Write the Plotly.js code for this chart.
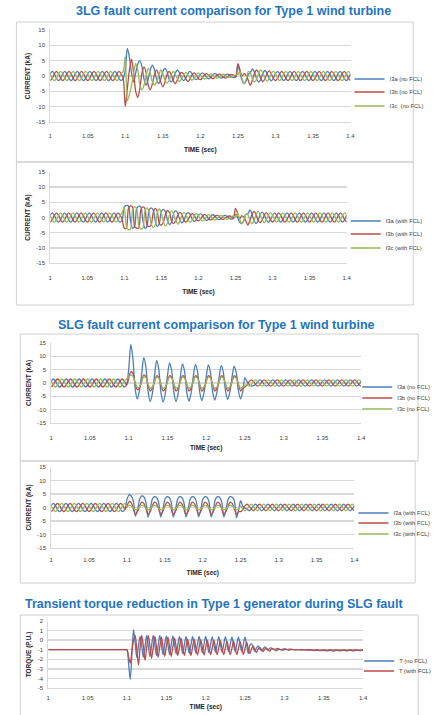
<!DOCTYPE html>
<html>
<head>
<meta charset="utf-8">
<script src="https://cdn.plot.ly/plotly-3.0.1.min.js"></script>
<style>
html,body{margin:0;padding:0;background:#fff;}
#chart{width:436px;height:715px;}
</style>
</head>
<body>
<div id="chart"></div>
<script>
// ---------- sampling of the waveforms ----------
const currentStart = 1.0;          // s
const currentStep = 1 / 360;       // s (6 samples per 60 Hz cycle)
const torqueStart = 1.0;
const torqueStep = 1 / 480;        // s (4 samples per 120 Hz torque cycle)

// ---------- 3LG fault, no FCL (kA) ----------
const i3aNoFcl = [
.75,1.5,.75,-.75,-1.5,-.75, .75,1.5,.75,-.75,-1.5,-.75, .75,1.5,.75,-.75,-1.5,-.75,
.75,1.5,.75,-.75,-1.5,-.75, .75,1.5,.75,-.75,-1.5,-.75, .75,1.5,.75,-.75,-1.5,-.75,
2,9,6,1,-2,1, 4,5,3,-1,-3,-1, 2,3.5,2,-1,-2.5,-1,
1.5,2.5,1.5,-1,-2,-1, 1,2,1,-.8,-1.5,-.8, .8,1.5,.8,-.6,-1.2,-.6,
.5,1,.5,-.5,-.9,-.5, .4,.8,.4,-.4,-.7,-.4, .3,.6,.3,-.3,-.5,-.3,
3.5,1,-1.5,-2.5,-1.5,.5, 1.2,2.3,1.2,-1,-2,-1, 1,1.8,.9,-.8,-1.6,-.8,
.75,1.5,.75,-.75,-1.5,-.75, .75,1.5,.75,-.75,-1.5,-.75, .75,1.5,.75,-.75,-1.5,-.75,
.75,1.5,.75,-.75,-1.5,-.75, .75,1.5,.75,-.75,-1.5,-.75, .75,1.5,.75,-.75,-1.5,-.75,
.75];
const i3bNoFcl = [
-1.5,-.75,.75,1.5,.75,-.75, -1.5,-.75,.75,1.5,.75,-.75, -1.5,-.75,.75,1.5,.75,-.75,
-1.5,-.75,.75,1.5,.75,-.75, -1.5,-.75,.75,1.5,.75,-.75, -1.5,-.75,.75,1.5,.75,-.75,
-10,-4,2,5.5,1,-5, -7,-4,1,3,1,-3, -4.5,-2.5,.5,2,.5,-2,
-3.5,-2,.5,1.5,.5,-1.5, -2.5,-1.3,.5,1.2,.5,-1, -1.8,-1,.4,1,.4,-.8,
-1.2,-.6,.4,.8,.3,-.5, -.9,-.5,.3,.6,.3,-.4, -.7,-.4,.2,.5,.2,-.3,
4,2,0,.8,.2,-1.5, -3,-1.2,1,2,1,-1, -1.8,-.9,.9,1.7,.8,-.8,
-1.5,-.75,.75,1.5,.75,-.75, -1.5,-.75,.75,1.5,.75,-.75, -1.5,-.75,.75,1.5,.75,-.75,
-1.5,-.75,.75,1.5,.75,-.75, -1.5,-.75,.75,1.5,.75,-.75, -1.5,-.75,.75,1.5,.75,-.75,
-1.5];
const i3cNoFcl = [
.75,-.75,-1.5,-.75,.75,1.5, .75,-.75,-1.5,-.75,.75,1.5, .75,-.75,-1.5,-.75,.75,1.5,
.75,-.75,-1.5,-.75,.75,1.5, .75,-.75,-1.5,-.75,.75,1.5, .75,-.75,-1.5,-.75,.75,1.5,
6.5,-8,-6,-3,1,4, 2,-3,-4.5,-3,0,2.5, 1,-2,-3,-2,0,2,
.8,-1.2,-2.3,-1.5,.3,1.5, .5,-1,-1.8,-1,.3,1.2, .4,-.6,-1.3,-.8,.3,1,
.3,-.5,-1,-.6,.2,.7, .2,-.4,-.7,-.4,.2,.6, .2,-.3,-.5,-.3,.2,.4,
.5,1.5,-1,-2.5,-1,1.5, 1,-1,-2,-1,1,2, .9,-.8,-1.7,-.8,.8,1.6,
.75,-.75,-1.5,-.75,.75,1.5, .75,-.75,-1.5,-.75,.75,1.5, .75,-.75,-1.5,-.75,.75,1.5,
.75,-.75,-1.5,-.75,.75,1.5, .75,-.75,-1.5,-.75,.75,1.5, .75,-.75,-1.5,-.75,.75,1.5,
.75];

// ---------- 3LG fault, with FCL (kA) ----------
const i3aFcl = [
.75,1.5,.75,-.75,-1.5,-.75, .75,1.5,.75,-.75,-1.5,-.75, .75,1.5,.75,-.75,-1.5,-.75,
.75,1.5,.75,-.75,-1.5,-.75, .75,1.5,.75,-.75,-1.5,-.75, .75,1.5,.75,-.75,-1.5,-.75,
3.5,4,3.8,-1,-3.5,-3, 3,3.7,3.5,-1,-3.5,-3, 2.5,3.2,2.5,-1,-3,-2,
2,2.7,1.8,-1,-2.3,-1.5, 1.5,2.2,1.3,-.8,-1.8,-1, 1,1.6,1,-.6,-1.3,-.8,
.7,1.2,.7,-.5,-1,-.5, .5,.9,.5,-.4,-.7,-.4, .4,.7,.3,-.3,-.5,-.3,
1,0,-1.5,-2,-1,1, 1.2,2.5,1.2,-1,-2,-1, 1,1.8,.9,-.8,-1.6,-.8,
.75,1.5,.75,-.75,-1.5,-.75, .75,1.5,.75,-.75,-1.5,-.75, .75,1.5,.75,-.75,-1.5,-.75,
.75,1.5,.75,-.75,-1.5,-.75, .75,1.5,.75,-.75,-1.5,-.75, .75,1.5,.75,-.75,-1.5,-.75,
.75];
const i3bFcl = [
-1.5,-.75,.75,1.5,.75,-.75, -1.5,-.75,.75,1.5,.75,-.75, -1.5,-.75,.75,1.5,.75,-.75,
-1.5,-.75,.75,1.5,.75,-.75, -1.5,-.75,.75,1.5,.75,-.75, -1.5,-.75,.75,1.5,.75,-.75,
-3.5,-3.5,3,3.8,3.5,-3, -3.5,-3.5,2.5,3.5,3,-2.5, -3,-2.5,1.5,3,2,-2,
-2.5,-1.5,1,2.3,1.5,-1.3, -2,-1,.8,1.8,1,-1, -1.5,-.8,.6,1.3,.7,-.7,
-1.1,-.6,.5,1,.5,-.5, -.8,-.4,.4,.7,.4,-.4, -.6,-.3,.3,.5,.3,-.3,
3,1.5,-.5,.5,.2,-1, -2.5,-1,1,2,1,-1, -1.7,-.9,.8,1.6,.8,-.8,
-1.5,-.75,.75,1.5,.75,-.75, -1.5,-.75,.75,1.5,.75,-.75, -1.5,-.75,.75,1.5,.75,-.75,
-1.5,-.75,.75,1.5,.75,-.75, -1.5,-.75,.75,1.5,.75,-.75, -1.5,-.75,.75,1.5,.75,-.75,
-1.5];
const i3cFcl = [
.75,-.75,-1.5,-.75,.75,1.5, .75,-.75,-1.5,-.75,.75,1.5, .75,-.75,-1.5,-.75,.75,1.5,
.75,-.75,-1.5,-.75,.75,1.5, .75,-.75,-1.5,-.75,.75,1.5, .75,-.75,-1.5,-.75,.75,1.5,
3.5,-3,-4,-3.8,2.5,3.5, 3,-2.5,-3.8,-3.5,2,3.2, 2,-2,-3.3,-2.5,1.5,2.8,
1.5,-1.5,-2.8,-1.8,1,2.2, 1,-1,-2.2,-1.2,.8,1.7, .8,-.8,-1.6,-.9,.6,1.3,
.6,-.6,-1.2,-.6,.4,1, .4,-.4,-.8,-.4,.3,.7, .3,-.3,-.6,-.3,.2,.5,
.3,1.5,-.5,-2,-1.2,1, 1,-1,-2,-1.1,1,2, .8,-.8,-1.7,-.8,.8,1.6,
.75,-.75,-1.5,-.75,.75,1.5, .75,-.75,-1.5,-.75,.75,1.5, .75,-.75,-1.5,-.75,.75,1.5,
.75,-.75,-1.5,-.75,.75,1.5, .75,-.75,-1.5,-.75,.75,1.5, .75,-.75,-1.5,-.75,.75,1.5,
.75];

// ---------- SLG fault, no FCL (kA) ----------
const i3aSlgNoFcl = [
.75,1.5,.75,-.75,-1.5,-.75, .75,1.5,.75,-.75,-1.5,-.75, .75,1.5,.75,-.75,-1.5,-.75,
.75,1.5,.75,-.75,-1.5,-.75, .75,1.5,.75,-.75,-1.5,-.75, .75,1.5,.75,-.75,-1.5,-.75,
5,14.5,9,-2,-6,-3, 3,9.5,6,-3,-7,-4, 2.5,8.5,5,-3.5,-7.2,-4,
2.5,7.5,4.5,-3.5,-7,-4, 2.3,7.2,4.3,-3.5,-6.8,-3.8, 2.2,7,4.2,-3.3,-6.6,-3.6,
2,6.8,4,-3.2,-6.4,-3.5, 2,6.5,3.9,-3,-6.2,-3.4, 2,6.3,3.8,-3,-6,-3.3,
2,.5,-.5,-1.2,-1,-.5,
.6,1.2,.6,-.6,-1.2,-.6, .6,1.2,.6,-.6,-1.2,-.6, .6,1.2,.6,-.6,-1.2,-.6, .6,1.2,.6,-.6,-1.2,-.6,
.6,1.2,.6,-.6,-1.2,-.6, .6,1.2,.6,-.6,-1.2,-.6, .6,1.2,.6,-.6,-1.2,-.6, .6,1.2,.6,-.6,-1.2,-.6,
.6];
const i3bSlgNoFcl = [
-1.5,-.75,.75,1.5,.75,-.75, -1.5,-.75,.75,1.5,.75,-.75, -1.5,-.75,.75,1.5,.75,-.75,
-1.5,-.75,.75,1.5,.75,-.75, -1.5,-.75,.75,1.5,.75,-.75, -1.5,-.75,.75,1.5,.75,-.75,
1.5,4.3,3.5,0,-2.5,-2, .5,3,2.5,-.5,-3,-2, .5,2.7,2.2,-.5,-3,-2,
.5,2.7,2.2,-.5,-3,-2, .5,2.7,2.2,-.5,-3,-2, .5,2.7,2.2,-.5,-3,-2,
.5,2.7,2.2,-.5,-3,-2, .5,2.7,2.2,-.5,-3,-2, .5,2.7,2.2,-.5,-3,-2,
-1.5,-.8,.6,1.2,.6,-.6,
-1.2,-.6,.6,1.2,.6,-.6, -1.2,-.6,.6,1.2,.6,-.6, -1.2,-.6,.6,1.2,.6,-.6, -1.2,-.6,.6,1.2,.6,-.6,
-1.2,-.6,.6,1.2,.6,-.6, -1.2,-.6,.6,1.2,.6,-.6, -1.2,-.6,.6,1.2,.6,-.6, -1.2,-.6,.6,1.2,.6,-.6,
-1.2];
const i3cSlgNoFcl = [
.75,-.75,-1.5,-.75,.75,1.5, .75,-.75,-1.5,-.75,.75,1.5, .75,-.75,-1.5,-.75,.75,1.5,
.75,-.75,-1.5,-.75,.75,1.5, .75,-.75,-1.5,-.75,.75,1.5, .75,-.75,-1.5,-.75,.75,1.5,
2,3,2.5,0,-1.5,-1.5, .5,2.3,2,-.5,-2,-1.5, .5,2.2,1.8,-.5,-2,-1.5,
.5,2.2,1.8,-.5,-2,-1.5, .5,2.2,1.8,-.5,-2,-1.5, .5,2.2,1.8,-.5,-2,-1.5,
.5,2.2,1.8,-.5,-2,-1.5, .5,2.2,1.8,-.5,-2,-1.5, .5,2.2,1.8,-.5,-2,-1.5,
-1,-.6,-1.2,-.6,.6,1.2,
.6,-.6,-1.2,-.6,.6,1.2, .6,-.6,-1.2,-.6,.6,1.2, .6,-.6,-1.2,-.6,.6,1.2, .6,-.6,-1.2,-.6,.6,1.2,
.6,-.6,-1.2,-.6,.6,1.2, .6,-.6,-1.2,-.6,.6,1.2, .6,-.6,-1.2,-.6,.6,1.2, .6,-.6,-1.2,-.6,.6,1.2,
.6];

// ---------- SLG fault, with FCL (kA) ----------
const i3aSlgFcl = [
.75,1.5,.75,-.75,-1.5,-.75, .75,1.5,.75,-.75,-1.5,-.75, .75,1.5,.75,-.75,-1.5,-.75,
.75,1.5,.75,-.75,-1.5,-.75, .75,1.5,.75,-.75,-1.5,-.75, .75,1.5,.75,-.75,-1.5,-.75,
3,4.7,4.3,2.5,-3.2,-1, 3,4.3,4,2,-3.5,-1, 3,4,3.8,2,-3.5,-1,
3,4,3.8,2,-3.5,-1, 3,4,3.8,2,-3.5,-1, 3,4,3.8,2,-3.5,-1,
3,4,3.8,2,-3.5,-1, 3,4,3.8,2,-3.5,-1, 3,4,3.8,2.5,-3.8,-1,
2.5,.5,-.3,-.6,-1.2,-.6,
.6,1.2,.6,-.6,-1.2,-.6, .6,1.2,.6,-.6,-1.2,-.6, .6,1.2,.6,-.6,-1.2,-.6, .6,1.2,.6,-.6,-1.2,-.6,
.6,1.2,.6,-.6,-1.2,-.6, .6,1.2,.6,-.6,-1.2,-.6, .6,1.2,.6,-.6,-1.2,-.6, .6,1.2,.6,-.6,-1.2,-.6,
.6];
const i3bSlgFcl = [
-1.5,-.75,.75,1.5,.75,-.75, -1.5,-.75,.75,1.5,.75,-.75, -1.5,-.75,.75,1.5,.75,-.75,
-1.5,-.75,.75,1.5,.75,-.75, -1.5,-.75,.75,1.5,.75,-.75, -1.5,-.75,.75,1.5,.75,-.75,
.5,2.2,1.8,-.5,-2.5,-1.5, .5,2,1.5,-.5,-2.5,-1.5, .5,2,1.5,-.5,-2.5,-1.5,
.5,2,1.5,-.5,-2.5,-1.5, .5,2,1.5,-.5,-2.5,-1.5, .5,2,1.5,-.5,-2.5,-1.5,
.5,2,1.5,-.5,-2.5,-1.5, .5,2,1.5,-.5,-2.5,-1.5, .5,2,1.5,-.5,-2.5,-1.5,
-1.5,-.8,.6,1.2,.6,-.6,
-1.2,-.6,.6,1.2,.6,-.6, -1.2,-.6,.6,1.2,.6,-.6, -1.2,-.6,.6,1.2,.6,-.6, -1.2,-.6,.6,1.2,.6,-.6,
-1.2,-.6,.6,1.2,.6,-.6, -1.2,-.6,.6,1.2,.6,-.6, -1.2,-.6,.6,1.2,.6,-.6, -1.2,-.6,.6,1.2,.6,-.6,
-1.2];
const i3cSlgFcl = [
.75,-.75,-1.5,-.75,.75,1.5, .75,-.75,-1.5,-.75,.75,1.5, .75,-.75,-1.5,-.75,.75,1.5,
.75,-.75,-1.5,-.75,.75,1.5, .75,-.75,-1.5,-.75,.75,1.5, .75,-.75,-1.5,-.75,.75,1.5,
.3,.8,.6,-.3,-.8,-.6, .3,.8,.6,-.3,-.8,-.6, .3,.8,.6,-.3,-.8,-.6,
.3,.8,.6,-.3,-.8,-.6, .3,.8,.6,-.3,-.8,-.6, .3,.8,.6,-.3,-.8,-.6,
.3,.8,.6,-.3,-.8,-.6, .3,.8,.6,-.3,-.8,-.6, .3,.8,.6,-.3,-.8,-.6,
.6,-.6,-1.2,-.6,.6,1.2,
.6,-.6,-1.2,-.6,.6,1.2, .6,-.6,-1.2,-.6,.6,1.2, .6,-.6,-1.2,-.6,.6,1.2, .6,-.6,-1.2,-.6,.6,1.2,
.6,-.6,-1.2,-.6,.6,1.2, .6,-.6,-1.2,-.6,.6,1.2, .6,-.6,-1.2,-.6,.6,1.2, .6,-.6,-1.2,-.6,.6,1.2,
.6];

// ---------- Torque, SLG fault (p.u.) ----------
const torqueNoFcl = [
-1,-1,-1,-1,-1,-1,-1,-1,-1,-1,-1,-1,-1,-1,-1,-1,-1,-1,-1,-1,-1,-1,-1,-1,
-1,-1,-1,-1,-1,-1,-1,-1,-1,-1,-1,-1,-1,-1,-1,-1,-1,-1,-1,-1,-1,-1,-1,-1,
-1,-2.5,-4.1,-1.5,1.1,-.3,-1.8,-.6,
.4,-.6,-1.8,-.7, .5,-.6,-1.7,-.6, .5,-.5,-1.6,-.6, .5,-.5,-1.5,-.5,
.45,-.5,-1.5,-.5, .45,-.5,-1.45,-.5, .4,-.5,-1.4,-.5, .4,-.5,-1.4,-.5,
.4,-.5,-1.35,-.45, .4,-.45,-1.3,-.45, .4,-.45,-1.3,-.45, .35,-.45,-1.25,-.45,
.35,-.45,-1.25,-.45, .35,-.45,-1.2,-.45, .3,-.45,-1.2,-.45, .3,-.45,-1.2,-.45,
.3,-.5,-1.4,-.5, -.4,-.8,-1.2,-.8, -.6,-.9,-1.1,-.9, -.7,-.85,-1.05,-.85,
-.8,-.9,-1,-.9, -.85,-.95,-1,-.95, -.9,-.95,-1,-.95, -.95,-.97,-1,-1,
-1,-1,-1.02,-1, -1,-1.02,-1.05,-1.02, -1.02,-1.05,-1.08,-1.05, -1.05,-1.08,-1.1,-1.08,
-1.08,-1.1,-1.12,-1.1, -1.05,-1.1,-1.15,-1.1, -1.05,-1.1,-1.12,-1.1, -1.05,-1.1,-1.12,-1.1,
-1.05,-1.1,-1.12,-1.1, -1.05,-1.08,-1.1,-1.08,
-1.05];
const torqueFcl = [
-1,-1,-1,-1,-1,-1,-1,-1,-1,-1,-1,-1,-1,-1,-1,-1,-1,-1,-1,-1,-1,-1,-1,-1,
-1,-1,-1,-1,-1,-1,-1,-1,-1,-1,-1,-1,-1,-1,-1,-1,-1,-1,-1,-1,-1,-1,-1,-1,
-1,-1.8,-2.4,-1.2,0,.5,-1,-2.6,
-.8,.5,-.6,-2.1, -.8,.5,-.6,-1.9, -.8,.4,-.7,-1.8, -.7,.3,-.7,-1.7,
-.7,.3,-.7,-1.7, -.7,.2,-.7,-1.6, -.7,.2,-.75,-1.6, -.75,.1,-.75,-1.6,
-.75,.1,-.8,-1.55, -.75,.05,-.8,-1.55, -.8,0,-.8,-1.5, -.8,0,-.8,-1.5,
-.8,-.05,-.85,-1.5, -.8,-.1,-.85,-1.5, -.85,-.1,-.85,-1.5, -.85,-.15,-.85,-1.5,
-.85,-.2,-.9,-1.4, -.9,-.6,-1,-1.3, -.9,-.75,-1,-1.2, -.95,-.85,-1,-1.15,
-.95,-.9,-1,-1.1, -1,-.95,-1,-1.05, -1,-.95,-1,-1.05, -1,-1,-1,-1.02,
-1,-1,-1.02,-1.02, -1.02,-1.02,-1.03,-1.03, -1.03,-1.03,-1.05,-1.03, -1.03,-1.03,-1.05,-1.03,
-1.03,-1.03,-1.05,-1.03, -1.03,-1.03,-1.05,-1.03, -1.03,-1.03,-1.05,-1.03, -1.03,-1.03,-1.05,-1.03,
-1.03,-1.03,-1.05,-1.03, -1.03,-1.03,-1.05,-1.03,
-1.03];

// ---------- tick labels ----------
const timeTickVals = [1, 1.05, 1.1, 1.15, 1.2, 1.25, 1.3, 1.35, 1.4];
const timeTickText = ['1', '1.05', '1.1', '1.15', '1.2', '1.25', '1.3', '1.35', '1.4'];
const currentTickVals = [-15, -10, -5, 0, 5, 10, 15];
const currentTickText = ['-15', '-10', '-5', '0', '5', '10', '15'];
const torqueTickVals = [-5, -4, -3, -2, -1, 0, 1, 2];
const torqueTickText = ['-5', '-4', '-3', '-2', '-1', '0', '1', '2'];

// ---------- names ----------
const titles = [
  '3LG fault current comparison for Type 1 wind turbine',
  'SLG fault current comparison for Type 1 wind turbine',
  'Transient torque reduction in Type 1 generator during SLG fault'
];

// ---------- build ----------
const curSeries = [i3aNoFcl,i3bNoFcl,i3cNoFcl,i3aFcl,i3bFcl,i3cFcl,i3aSlgNoFcl,i3bSlgNoFcl,i3cSlgNoFcl,i3aSlgFcl,i3bSlgFcl,i3cSlgFcl];
curSeries.forEach((s, k) => { if (s.length !== 145) throw new Error('current series ' + k + ' has ' + s.length); });
[torqueNoFcl, torqueFcl].forEach((s, k) => { if (s.length !== 193) throw new Error('torque series ' + k + ' has ' + s.length); });

const tCur = i3aNoFcl.map((_, i) => +(currentStart + i * currentStep).toFixed(6));
const tTorque = torqueNoFcl.map((_, i) => +(torqueStart + i * torqueStep).toFixed(6));

const W = 436, H = 715;
const fx = p => p / W;
const fy = p => 1 - p / H;

const BLUE = '#4a7ebb', RED = '#be4b48', GREEN = '#98b954';
const FONT = 'Liberation Sans, Arial, sans-serif';
const LW = 1.3;

let legendCount = 0;
function tr(x, y, name, color, n) {
  legendCount += 1;
  return {
    type: 'scatter', mode: 'lines', x: x, y: y, name: name,
    xaxis: n === 1 ? 'x' : 'x' + n, yaxis: n === 1 ? 'y' : 'y' + n,
    legend: legendCount === 1 ? 'legend' : 'legend' + legendCount,
    line: { color: color, width: LW, shape: 'spline', smoothing: 0.8 },
    hoverinfo: 'skip'
  };
}

const data = [
  tr(tCur, i3aNoFcl, 'I3a (no FCL)', BLUE, 1),
  tr(tCur, i3bNoFcl, 'I3b (no FCL)', RED, 1),
  tr(tCur, i3cNoFcl, 'I3c  (no FCL)', GREEN, 1),
  tr(tCur, i3aFcl, 'I3a (with FCL)', BLUE, 2),
  tr(tCur, i3bFcl, 'I3b (with FCL)', RED, 2),
  tr(tCur, i3cFcl, 'I3c (with FCL)', GREEN, 2),
  tr(tCur, i3aSlgNoFcl, 'I3a (no FCL)', BLUE, 3),
  tr(tCur, i3bSlgNoFcl, 'I3b (no FCL)', RED, 3),
  tr(tCur, i3cSlgNoFcl, 'I3c (no FCL)', GREEN, 3),
  tr(tCur, i3aSlgFcl, 'I3a (with FCL)', BLUE, 4),
  tr(tCur, i3bSlgFcl, 'I3b (with FCL)', RED, 4),
  tr(tCur, i3cSlgFcl, 'I3c (with FCL)', GREEN, 4),
  tr(tTorque, torqueNoFcl, 'T (no FCL)', BLUE, 5),
  tr(tTorque, torqueFcl, 'T (with FCL)', RED, 5)
];

function xAx(n, x0, x1, labelGap, titleGap) {
  return {
    domain: [fx(x0), fx(x1)], anchor: n === 1 ? 'y' : 'y' + n,
    range: [1, 1.4], tickmode: 'array', tickvals: timeTickVals, ticktext: timeTickText,
    showgrid: false, zeroline: false, showline: true, linecolor: '#d9d9d9', linewidth: 1,
    ticks: '', ticklabelstandoff: labelGap,
    tickfont: { family: FONT, size: 6, color: '#404040' },
    title: { text: '<b>TIME (sec)</b>', font: { family: FONT, size: 6.5, color: '#262626' }, standoff: titleGap },
    automargin: false, fixedrange: true
  };
}
function yAx(n, y0, y1, vals, text, label, lo, hi) {
  return {
    domain: [fy(y1), fy(y0)], anchor: n === 1 ? 'x' : 'x' + n,
    range: [lo, hi], tickmode: 'array', tickvals: vals, ticktext: text,
    showgrid: true, gridcolor: '#d9d9d9', gridwidth: 1.4,
    zeroline: false, showline: true, linecolor: '#d9d9d9', linewidth: 1,
    ticks: '', ticklabelstandoff: 3,
    tickfont: { family: FONT, size: 6, color: '#404040' },
    title: { text: '<b>' + label + '</b>', font: { family: FONT, size: 6.5, color: '#262626' }, standoff: 5 },
    automargin: false, fixedrange: true
  };
}
function leg(xp, yp) {
  return {
    x: fx(xp), y: fy(yp), xanchor: 'left', yanchor: 'middle',
    bgcolor: 'rgba(0,0,0,0)', borderwidth: 0,
    font: { family: FONT, size: 5.8, color: '#404040' },
    itemwidth: 30
  };
}
function box(x0, y0, x1, y1) {
  return { type: 'rect', xref: 'paper', yref: 'paper', x0: fx(x0), x1: fx(x1), y0: fy(y1), y1: fy(y0),
           line: { color: '#d0d0d0', width: 1 }, fillcolor: 'rgba(0,0,0,0)', layer: 'below' };
}
function head(text, xp, yp) {
  return { text: '<b>' + text + '</b>', xref: 'paper', yref: 'paper', x: fx(xp), y: fy(yp),
           xanchor: 'center', yanchor: 'middle', showarrow: false,
           font: { family: FONT, size: 12.5, color: '#1f74c0' } };
}

// legend entry placement (left edge px, centre px) per trace
const legendPlaces = [
  [362, 79], [362, 92], [362, 106],
  [358, 221], [358, 234], [358, 248],
  [370, 387], [370, 398], [370, 409],
  [366, 513], [366, 523], [366, 534],
  [372, 661], [372, 671]
];

const layout = {
  width: W, height: H,
  margin: { l: 0, r: 0, t: 0, b: 0 },
  paper_bgcolor: '#ffffff', plot_bgcolor: '#ffffff',
  font: { family: FONT, color: '#404040' },
  xaxis: xAx(1, 52, 363, 8, 9),
  yaxis: yAx(1, 30, 122, currentTickVals, currentTickText, 'CURRENT (kA)', -15, 15),
  xaxis2: xAx(2, 52, 359, 9, 9),
  yaxis2: yAx(2, 172, 263, currentTickVals, currentTickText, 'CURRENT (kA)', -15, 15),
  xaxis3: xAx(3, 53, 374, 9, 5),
  yaxis3: yAx(3, 343, 423, currentTickVals, currentTickText, 'CURRENT (kA)', -15, 15),
  xaxis4: xAx(4, 53, 367, 6, 8),
  yaxis4: yAx(4, 467, 548, currentTickVals, currentTickText, 'CURRENT (kA)', -15, 15),
  xaxis5: xAx(5, 50, 376, 4, 4),
  yaxis5: yAx(5, 621, 688, torqueTickVals, torqueTickText, 'TORQUE (P.U.)', -5, 2),
  showlegend: true,
  shapes: [
    box(17, 22, 428, 162),
    box(17, 162, 428, 305),
    box(21, 334, 433, 461),
    box(21, 461, 430, 583),
    box(21, 615, 433, 716)
  ],
  annotations: [
    head(titles[0], 242, 11),
    head(titles[1], 224, 325),
    head(titles[2], 222, 604)
  ]
};
legendPlaces.forEach((p, k) => {
  layout[k === 0 ? 'legend' : 'legend' + (k + 1)] = leg(p[0], p[1]);
});

Plotly.newPlot('chart', data, layout, { staticPlot: true, displayModeBar: false });
</script>
</body>
</html>
